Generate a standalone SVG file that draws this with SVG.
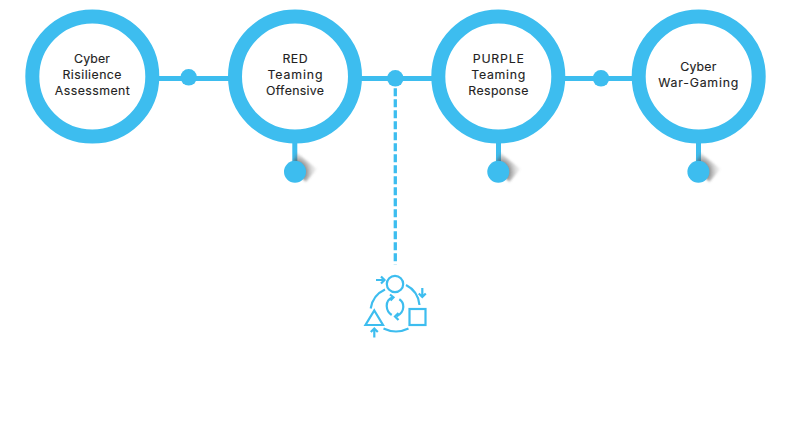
<svg xmlns="http://www.w3.org/2000/svg" xmlns:xlink="http://www.w3.org/1999/xlink" width="800" height="435" viewBox="0 0 800 435">
<defs>
<radialGradient id="sh" gradientUnits="userSpaceOnUse" cx="295" cy="172" r="24"><stop offset="0.44" stop-color="#444" stop-opacity=".6"/><stop offset=".7" stop-color="#777" stop-opacity=".28"/><stop offset="1" stop-color="#999" stop-opacity="0"/></radialGradient>
<filter id="bl" x="-30%" y="-30%" width="160%" height="160%"><feGaussianBlur stdDeviation="1.200"/></filter>
<path id="shadow" class="sh" d="M292 166L296 152L317 169L306 182L295 172Z"/>
<style>
.ring{fill:#fff;stroke:#3dbdef;stroke-width:14}
.dot{fill:#3dbdef}
.ln{stroke:#3dbdef;stroke-width:5;fill:none}
.dash{stroke:#3dbdef;stroke-width:3.300;stroke-dasharray:8 3;fill:none}
.ic{stroke:#3dbdef;stroke-width:2.200;fill:none}
.sh{fill:url(#sh);filter:url(#bl)}
text{font-family:Inter,"Liberation Sans",sans-serif;font-size:12.300px;font-weight:400;fill:#222;text-anchor:middle;stroke:#222;stroke-width:.12px}
</style>
</defs>
<g id="connectors">
<path class="ln" d="M155 78.500H235M355 78.500H438M560 78.500H640"/>
<path class="ln" d="M294.800 135V170M498.500 135V170M698.500 135V170"/>
<path class="dash" d="M395.300 88.300V264.500"/>
<use xlink:href="#shadow" href="#shadow"/>
<use xlink:href="#shadow" href="#shadow" transform="translate(203.500 0)"/>
<use xlink:href="#shadow" href="#shadow" transform="translate(403.500 0)"/>
<circle class="dot" cx="188.700" cy="77.300" r="8.300"/>
<circle class="dot" cx="395.300" cy="78.300" r="8.300"/>
<circle class="dot" cx="601" cy="78.300" r="8.300"/>
<circle class="dot" cx="295" cy="171.700" r="11"/>
<circle class="dot" cx="498.300" cy="171.700" r="11"/>
<circle class="dot" cx="698.400" cy="171.700" r="11"/>
</g>
<g id="n1"><circle class="ring" cx="92.300" cy="76.500" r="60"/><text x="92" y="63" textLength="36">Cyber</text><text x="92" y="79" textLength="59">Risilience</text><text x="92.300" y="95" textLength="75">Assessment</text></g>
<g id="n2"><circle class="ring" cx="295" cy="76.500" r="60"/><text x="295" y="63" textLength="25">RED</text><text x="295" y="79" textLength="55">Teaming</text><text x="295" y="95" textLength="58">Offensive</text></g>
<g id="n3"><circle class="ring" cx="498.300" cy="76.500" r="60"/><text x="498.300" y="63" textLength="51">PURPLE</text><text x="498.300" y="79" textLength="54">Teaming</text><text x="498.300" y="95" textLength="60">Response</text></g>
<g id="n4"><circle class="ring" cx="698.700" cy="76.500" r="60"/><text x="698.300" y="71" textLength="36">Cyber</text><text x="698.300" y="87" textLength="80">War-Gaming</text></g>
<g id="icon">
<circle class="ic" cx="395" cy="284" r="8.200"/>
<path class="ic" d="M370.700 308.500A25 25 0 0 1 385 289.500M406 285A25 25 0 0 1 419.500 305M383.500 328.500Q396 334.500 408.500 328.500"/>
<rect class="ic" x="409.500" y="309" width="16" height="16"/>
<path class="ic" d="M374.300 310.500L383 325H365.500Z"/>
<path class="ic" d="M376 280H384M381 276.500L384.500 280L381 283.500M422.300 288V296.500M418.800 293.500L422.300 297L425.800 293.500M374.300 337.500V329M370.800 332L374.300 328.500L377.800 332"/>
<path class="ic" d="M392.500 297.300Q386.500 300 386.700 306Q387 312 391.700 315M390 294.500L393.500 297.300L390.500 300.500M399.300 299.300Q403.500 302 403.300 307Q403 313 396.700 316.300M398.500 313L395 316.500L398.500 320"/>
</g>
</svg>
